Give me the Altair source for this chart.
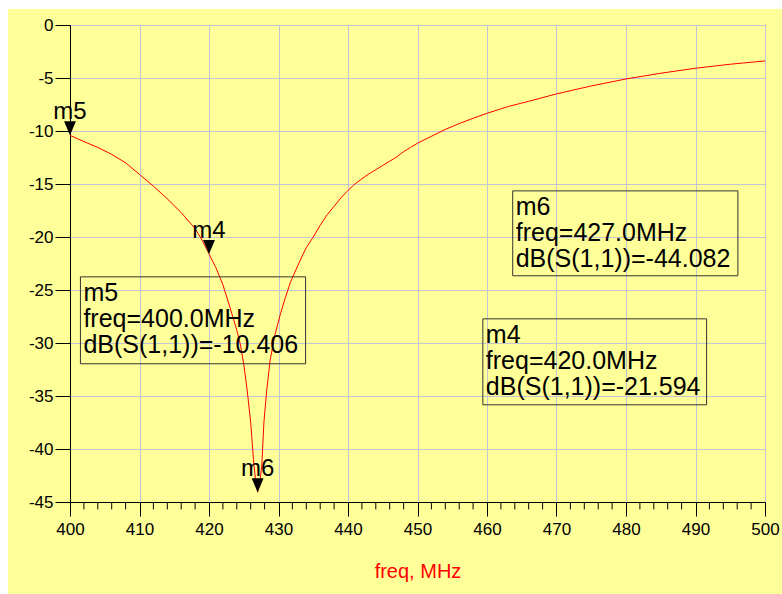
import altair as alt
import pandas as pd

# Swept return loss of the matched port, dB(S(1,1)) versus frequency
freq_mhz = [400, 402, 404, 406, 408, 410, 412, 414, 416, 418,
            419, 420, 421, 422, 423, 424, 424.5, 425, 425.5, 426,
            426.4, 426.7, 427, 427.3, 427.6, 427.9, 428.3, 428.8, 429.5, 430.3,
            431, 431.7, 432.5, 433.4, 434, 435, 436, 437, 438, 439,
            440, 441, 442, 443, 444, 445, 446, 447, 448, 449,
            450, 452, 454, 456, 458, 460, 463, 466, 470, 475,
            480, 485, 490, 495, 500]
s11_db = [-10.41, -11.0, -11.55, -12.2, -13.0, -14.1, -15.2, -16.4, -17.7, -19.2,
          -20.3, -21.59, -22.9, -24.5, -26.6, -28.8, -30.1, -32.0, -34.5, -37.5,
          -41.0, -43.0, -44.08, -43.2, -41.5, -37.5, -34.5, -31.6, -29.2, -27.2,
          -25.7, -24.3, -23.1, -21.8, -21.0, -20.0, -18.9, -17.9, -17.1, -16.3,
          -15.6, -15.0, -14.5, -14.05, -13.65, -13.25, -12.85, -12.45, -11.95, -11.55,
          -11.15, -10.5, -9.85, -9.3, -8.8, -8.33, -7.7, -7.2, -6.5, -5.75,
          -5.09, -4.55, -4.08, -3.7, -3.39]

# Markers placed on the trace
marker_names = ["m5", "m4", "m6"]
marker_freq = [400.0, 420.0, 427.0]
marker_db = [-10.406, -21.594, -44.082]

# Readout boxes for each marker, anchored in data units (freq, dB)
readout_left = [401.5, 459.4, 463.7]
readout_right = [433.9, 491.6, 496.1]
readout_top = [-23.76, -27.72, -15.65]
readout_bottom = [-31.96, -35.83, -23.66]

x_ticks = list(range(400, 501, 10))
x_minor = [v for v in range(402, 500, 2) if v % 10 != 0]
y_ticks = list(range(-45, 1, 5))

YELLOW = "#FFFF99"
GRID = "#C3C5D3"
FONT = "Liberation Sans"

trace = pd.DataFrame({"freq": freq_mhz, "db": s11_db})
markers = pd.DataFrame({"name": marker_names, "freq": marker_freq, "db": marker_db})
readouts = pd.DataFrame({
    "x": readout_left, "x2": readout_right,
    "y": readout_top, "y2": readout_bottom,
    "label": [f"{n}\nfreq={f:.1f}MHz\ndB(S(1,1))={d:.3f}"
              for n, f, d in zip(marker_names, marker_freq, marker_db)],
})
minor = pd.DataFrame({"freq": x_minor})

x_scale = alt.Scale(domain=[400, 500], nice=False, zero=False)
y_scale = alt.Scale(domain=[-45, 0], nice=False, zero=False)

x_axis = alt.Axis(
    values=x_ticks, labelExpr="datum.value + ''", title="freq, MHz",
    labelFont=FONT, labelFontSize=17, labelColor="black", labelPadding=5,
    labelFlush=False, labelOverlap=False,
    tickSize=14, tickColor="black", domainColor="black",
    gridColor=GRID, grid=True,
    titleFont=FONT, titleFontSize=20, titleFontWeight="normal", titleColor="red",
    titleBaseline="alphabetic", titleY=75,
)
y_axis = alt.Axis(
    values=y_ticks, labelExpr="datum.value + ''", title=None,
    labelFont=FONT, labelFontSize=17, labelColor="black", labelPadding=2,
    labelOverlap=False,
    tickSize=15, tickColor="black", domainColor="black",
    gridColor=GRID, grid=True,
)

one = pd.DataFrame({"k": [0]})

# white page margin around the yellow plot sheet
margin_left = alt.Chart(one).mark_rect(color="white").encode(
    x=alt.value(-70), x2=alt.value(-62), y=alt.value(-25), y2=alt.value(569)
)
margin_top = alt.Chart(one).mark_rect(color="white").encode(
    x=alt.value(-70), x2=alt.value(712), y=alt.value(-25), y2=alt.value(-16)
)

line = alt.Chart(trace).mark_line(color="#FF0000", strokeWidth=1).encode(
    x=alt.X("freq:Q", scale=x_scale, axis=x_axis),
    y=alt.Y("db:Q", scale=y_scale, axis=y_axis),
)

# minor ticks every 2 MHz hanging below the frequency axis
minor_ticks = alt.Chart(minor).mark_rule(
    color="black", strokeWidth=1, clip=False, yOffset=0, y2Offset=0
).encode(
    x=alt.X("freq:Q", scale=x_scale),
    y=alt.datum(-45, scale=y_scale),
    y2=alt.datum(-45.7),
)

tri = "M -0.85 -2 L 0.85 -2 L 0 0 Z"
marker_pts = alt.Chart(markers).mark_point(
    shape=tri, filled=True, color="black", opacity=1, size=196
).encode(x=alt.X("freq:Q", scale=x_scale), y=alt.Y("db:Q", scale=y_scale))

marker_txt = alt.Chart(markers).mark_text(
    font=FONT, fontSize=24, color="black", align="center",
    baseline="alphabetic", dy=-16
).encode(x=alt.X("freq:Q", scale=x_scale), y=alt.Y("db:Q", scale=y_scale),
         text="name:N")

boxes = alt.Chart(readouts).mark_rect(
    fill="transparent", stroke="#333333", strokeWidth=1
).encode(
    x=alt.X("x:Q", scale=x_scale), x2="x2:Q",
    y=alt.Y("y:Q", scale=y_scale), y2="y2:Q",
)

box_txt = alt.Chart(readouts).mark_text(
    font=FONT, fontSize=25, color="black", align="left", baseline="top",
    lineBreak="\n", lineHeight=26, dx=3, dy=4
).encode(
    x=alt.X("x:Q", scale=x_scale), y=alt.Y("y:Q", scale=y_scale), text="label:N"
)

chart = alt.layer(
    line, boxes, box_txt, marker_pts, marker_txt,
    margin_left, margin_top, minor_ticks
).properties(
    width=695, height=477,
    autosize=alt.AutoSizeParams(type="none"),
    padding={"left": 70, "top": 25, "right": 17, "bottom": 92},
    background=YELLOW,
).configure_view(
    stroke="black", strokeWidth=1, fill=YELLOW
)

chart.save("out.html", embed_options={"renderer": "svg", "actions": False})
